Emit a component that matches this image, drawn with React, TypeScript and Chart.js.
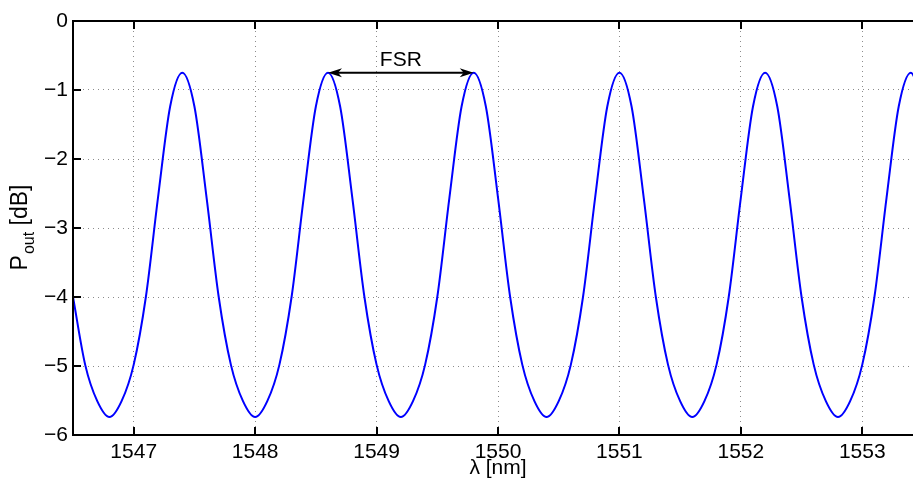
import React, { useEffect, useRef } from 'react';
import { Chart, registerables } from 'chart.js';

Chart.register(...registerables);

// Wavelength samples (nm)
const wavelengths = [
  1546.5, 1546.6, 1546.7, 1546.8, 1546.9, 1547.0, 1547.1, 1547.2, 1547.3, 1547.4,
  1547.5, 1547.6, 1547.7, 1547.8, 1547.9, 1548.0, 1548.1, 1548.2, 1548.3, 1548.4,
  1548.5, 1548.6, 1548.7, 1548.8, 1548.9, 1549.0, 1549.1, 1549.2, 1549.3, 1549.4,
  1549.5, 1549.6, 1549.7, 1549.8, 1549.9, 1550.0, 1550.1, 1550.2, 1550.3, 1550.4,
  1550.5, 1550.6, 1550.7, 1550.8, 1550.9, 1551.0, 1551.1, 1551.2, 1551.3, 1551.4,
  1551.5, 1551.6, 1551.7, 1551.8, 1551.9, 1552.0, 1552.1, 1552.2, 1552.3, 1552.4,
  1552.5, 1552.6, 1552.7, 1552.8, 1552.9, 1553.0, 1553.1, 1553.2, 1553.3, 1553.4,
  1553.5,
];

// Output power (dB)
const powerDb = [
  -4.0, -4.98, -5.51, -5.74, -5.51, -4.98, -4.0, -2.56, -1.24, -0.75,
  -1.24, -2.56, -4.0, -4.98, -5.51, -5.74, -5.51, -4.98, -4.0, -2.56,
  -1.24, -0.75, -1.24, -2.56, -4.0, -4.98, -5.51, -5.74, -5.51, -4.98,
  -4.0, -2.56, -1.24, -0.75, -1.24, -2.56, -4.0, -4.98, -5.51, -5.74,
  -5.51, -4.98, -4.0, -2.56, -1.24, -0.75, -1.24, -2.56, -4.0, -4.98,
  -5.51, -5.74, -5.51, -4.98, -4.0, -2.56, -1.24, -0.75, -1.24, -2.56,
  -4.0, -4.98, -5.51, -5.74, -5.51, -4.98, -4.0, -2.56, -1.24, -0.75,
  -1.24,
];

const xTicks = [1547, 1548, 1549, 1550, 1551, 1552, 1553];
const yTicks = [0, -1, -2, -3, -4, -5, -6];

const xRange = [1546.5, 1553.5];
const yRange = [-6, 0];

// FSR annotation (peak to peak)
const fsrFrom = 1548.6;
const fsrTo = 1549.8;
const fsrLevel = -0.75;
const fsrLabel = 'FSR';

const xTitle = 'λ [nm]';
const yTitleMain = 'P';
const yTitleSub = 'out';
const yTitleRest = ' [dB]';

const FONT = '"Liberation Sans", Arial, Helvetica, sans-serif';

const framePlugin = {
  id: 'matlabFrame',
  afterDraw(chart: any) {
    const { ctx, chartArea: a, scales } = chart;
    const xs = scales.x;
    const ys = scales.y;
    ctx.save();
    ctx.strokeStyle = '#000';
    ctx.lineWidth = 2;
    ctx.beginPath();
    ctx.rect(a.left, a.top, a.right - a.left, a.bottom - a.top);
    ctx.stroke();
    const tl = 8;
    ctx.beginPath();
    for (const v of xTicks) {
      const px = Math.round(xs.getPixelForValue(v));
      ctx.moveTo(px, a.bottom);
      ctx.lineTo(px, a.bottom - tl);
      ctx.moveTo(px, a.top);
      ctx.lineTo(px, a.top + tl);
    }
    for (const v of yTicks) {
      const py = Math.round(ys.getPixelForValue(v));
      ctx.moveTo(a.left, py);
      ctx.lineTo(a.left + tl, py);
      ctx.moveTo(a.right, py);
      ctx.lineTo(a.right - tl, py);
    }
    ctx.stroke();

    // FSR arrow
    const x1 = xs.getPixelForValue(fsrFrom);
    const x2 = xs.getPixelForValue(fsrTo);
    const y0 = ys.getPixelForValue(fsrLevel);
    ctx.lineWidth = 2;
    ctx.beginPath();
    ctx.moveTo(x1 + 6, y0);
    ctx.lineTo(x2 - 6, y0);
    ctx.stroke();
    ctx.fillStyle = '#000';
    const head = (tip: number, dir: number) => {
      ctx.beginPath();
      ctx.moveTo(tip, y0);
      ctx.lineTo(tip + dir * 14, y0 - 4.5);
      ctx.lineTo(tip + dir * 10, y0);
      ctx.lineTo(tip + dir * 14, y0 + 4.5);
      ctx.closePath();
      ctx.fill();
    };
    head(x1, 1);
    head(x2, -1);

    ctx.font = `21px ${FONT}`;
    ctx.textAlign = 'center';
    ctx.textBaseline = 'alphabetic';
    ctx.fillText(fsrLabel, (x1 + x2) / 2, y0 - 6.5);

    // x title
    ctx.fillText(xTitle, (a.left + a.right) / 2, 473.5);

    // y title with subscript
    ctx.save();
    ctx.translate(27, (a.top + a.bottom) / 2);
    ctx.rotate(-Math.PI / 2);
    ctx.textAlign = 'left';
    const mainFont = `23px ${FONT}`;
    const subFont = `16px ${FONT}`;
    ctx.font = mainFont;
    const wP = ctx.measureText(yTitleMain).width;
    const wR = ctx.measureText(yTitleRest).width;
    ctx.font = subFont;
    const wS = ctx.measureText(yTitleSub).width;
    const start = -(wP + wS + wR) / 2;
    ctx.font = mainFont;
    ctx.fillText(yTitleMain, start, 0);
    ctx.font = subFont;
    ctx.fillText(yTitleSub, start + wP + 1, 6.5);
    ctx.font = mainFont;
    ctx.fillText(yTitleRest, start + wP + wS + 1, 0);
    ctx.restore();

    ctx.restore();
  },
};

export default function App() {
  const ref = useRef<HTMLCanvasElement | null>(null);

  useEffect(() => {
    if (!ref.current) return;
    const data = wavelengths.map((x, i) => ({ x, y: powerDb[i] }));
    const chart = new Chart(ref.current, {
      type: 'line',
      data: {
        datasets: [
          {
            data,
            borderColor: '#0000ff',
            borderWidth: 2,
            pointRadius: 0,
            fill: false,
            cubicInterpolationMode: 'monotone',
          },
        ],
      },
      options: {
        animation: false,
        responsive: false,
        devicePixelRatio: 1,
        layout: { padding: { left: 0, top: 21, right: 17, bottom: 0 } },
        plugins: {
          legend: { display: false },
          tooltip: { enabled: false },
        },
        scales: {
          x: {
            type: 'linear',
            min: xRange[0],
            max: xRange[1],
            afterBuildTicks: (s: any) => {
              s.ticks = xTicks.map((v) => ({ value: v }));
            },
            afterFit: (s: any) => {
              s.height = 47;
            },
            grid: { color: 'rgba(0,0,0,0.45)', lineWidth: 1, drawTicks: false },
            border: { display: false, dash: [1, 4] },
            ticks: {
              padding: 5,
              color: '#000',
              font: { family: FONT, size: 21 },
              maxRotation: 0,
              autoSkip: false,
              callback: (v: any) => String(v),
            },
          },
          y: {
            type: 'linear',
            min: yRange[0],
            max: yRange[1],
            afterBuildTicks: (s: any) => {
              s.ticks = yTicks.map((v) => ({ value: v }));
            },
            afterFit: (s: any) => {
              s.width = 73;
            },
            grid: { color: 'rgba(0,0,0,0.45)', lineWidth: 1, drawTicks: false },
            border: { display: false, dash: [1, 4] },
            ticks: {
              padding: 5,
              color: '#000',
              font: { family: FONT, size: 21 },
              autoSkip: false,
              callback: (v: any) => (v < 0 ? '\u2212' + Math.abs(v) : String(v)),
            },
          },
        },
      },
      plugins: [framePlugin],
    });
    return () => chart.destroy();
  }, []);

  return (
    <div
      style={{
        position: 'fixed',
        left: 0,
        top: 0,
        width: 913,
        height: 482,
        overflow: 'hidden',
        background: '#fff',
      }}
    >
      <canvas ref={ref} width={940} height={482} style={{ display: 'block' }} />
    </div>
  );
}
